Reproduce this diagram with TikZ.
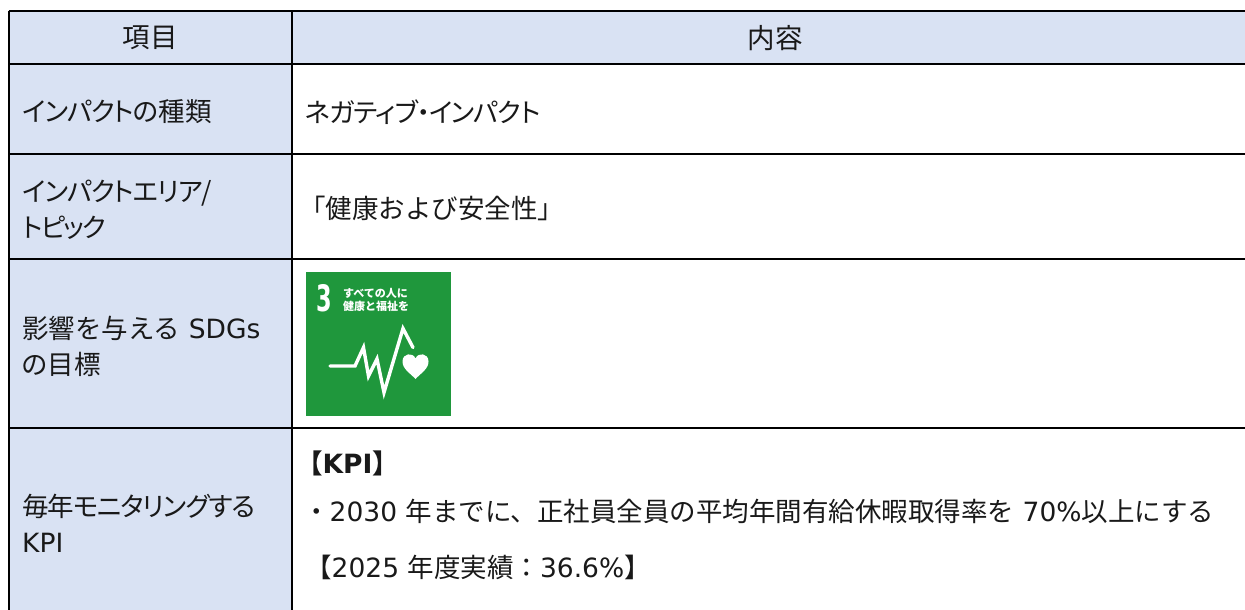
\documentclass[tikz,border=0pt]{standalone}
\usepackage{fontspec}
\setmainfont{DejaVu Sans}
\newfontfamily\jp[RawFeature=+palt]{Noto Sans CJK JP}
\newfontfamily\jn[RawFeature=+palt,LetterSpace=-4]{Noto Sans CJK JP}
\newfontfamily\jt[RawFeature=+palt,LetterSpace=-7]{Noto Sans CJK JP}
\newfontfamily\jf{Noto Sans CJK JP}
\newcommand{\J}[1]{{\jp #1}}
\newcommand{\N}[1]{{\jn #1}}
\newcommand{\T}[1]{{\jt #1}}
\newcommand{\F}[1]{{\jf #1}}
\definecolor{headbg}{HTML}{D9E2F3}
\definecolor{sdggreen}{HTML}{1F973C}
\tikzset{
 x=1pt,y=-1pt,
 cellbg/.style={fill=headbg,anchor=north west,inner sep=0pt,outer sep=0pt},
 rule/.style={line width=2pt,black},
 lab/.style={anchor=west,inner sep=0pt,align=left,font=\fontsize{26.5}{36}\selectfont,text=black!90},
 body/.style={anchor=west,inner sep=0pt,font=\fontsize{26.5}{36}\selectfont,text=black!90},
 head/.style={anchor=center,inner sep=0pt,font=\fontsize{27.5}{30}\selectfont\jf,text=black!90},
 pulse/.style={draw=white,line width=3.4pt,line join=miter,line cap=round},
}
\begin{document}
\begin{tikzpicture}
\useasboundingbox (0,0) rectangle (1245,610);
% left column background
\node[cellbg,minimum width=283pt,minimum height=599pt] (bg) at (9,11) {};
\node[cellbg,minimum width=953pt,minimum height=53pt] (hd) at (292,11) {};
% frame
\coordinate (tl) at (8.5,11); \coordinate (tm) at (292,11); \coordinate (tr) at (1245,11);
\coordinate (al) at (8.5,64); \coordinate (ar) at (1245,64);
\coordinate (bl) at (8.5,154); \coordinate (br) at (1245,154);
\coordinate (cl) at (8.5,259); \coordinate (cr) at (1245,259);
\coordinate (dl) at (8.5,428); \coordinate (dr) at (1245,428);
\coordinate (el) at (8.5,610); \coordinate (em) at (292,610);
\draw[rule] (tl) -- (tr);
\draw[rule] (al) -- (ar);
\draw[rule] (bl) -- (br);
\draw[rule] (cl) -- (cr);
\draw[rule] (dl) -- (dr);
\draw[rule] (tl) -- (el);
\draw[rule] (tm) -- (em);
% header
\node[head] (h1) at (150,38) {項目};
\node[head] (h2) at (775,38) {内容};
% left labels
\node[lab] (l1) at (22,112) {\N{インパクトの}\F{種類}};
\node[lab] (l2) at (22,210) {\N{インパクトエリア/}\\\T{トピック}};
\node[lab] (l3) at (22,346) {\F{影響を与える} SDGs\\\J{の目標}};
\node[lab] (l4) at (22,523) {\N{毎年モニタリングする}\\KPI};
% right texts
\node[body] (r1) at (305,112) {\N{ネガティブ・インパクト}};
\node[body] (r2) at (299,208) {\F{「健康および安全性」}};
\node[body] (r3) at (296,463) {\F{\bfseries 【}\textbf{KPI}\F{\bfseries 】}};
\node[body] (r4) at (303,511) {\F{・}2030 \F{年までに、正社員全員の平均年間有給休暇取得率を} 70\%\F{以上にする}};
\node[body] (r5) at (305,567) {\F{【}2025 \F{年度実績：}36.6\%\F{】}};
% SDG icon
\node[fill=sdggreen,anchor=north west,inner sep=0pt,minimum width=145pt,minimum height=144pt] (icon) at (306,272) {};
\node[anchor=center,inner sep=0pt,text=white,font=\fontsize{28}{28}\selectfont\bfseries] (n3) at (324.5,298.5) {\scalebox{.8}[1.3]{3}};
\node[anchor=west,inner sep=0pt,text=white,align=left,font=\fontsize{11}{13.5}\selectfont\jf\bfseries] (t3) at (343,300) {すべての人に\\健康と福祉を};
\draw[pulse] (330,366) -- (355,366) -- (363.5,347.5) -- (368.5,376) -- (377,359) -- (384,392.5) -- (403,328.5) -- (413,347.5);
\fill[white] (415.5,379) .. controls (410,373) and (402.5,369) .. (402.5,361.5) .. controls (402.5,353) and (413,352) .. (415.5,358.5) .. controls (418,352) and (428.5,353) .. (428.5,361.5) .. controls (428.5,369) and (421,373) .. (415.5,379) -- cycle;
\end{tikzpicture}
\end{document}
